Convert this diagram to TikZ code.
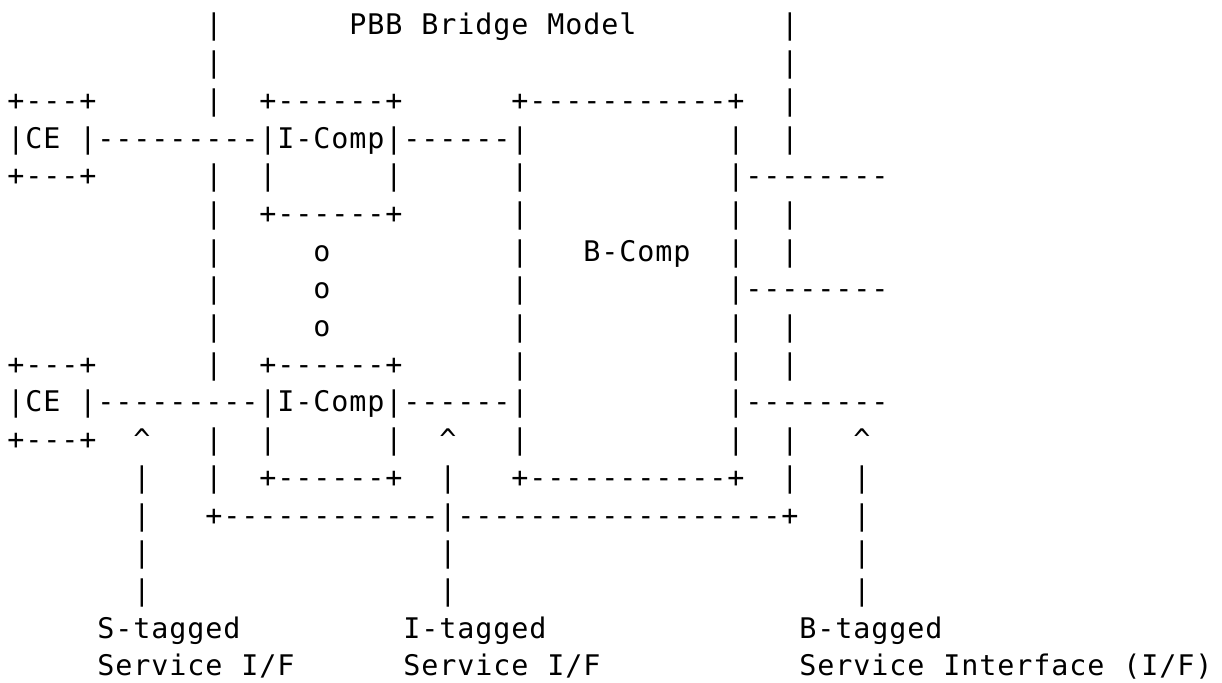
\documentclass[tikz,border=0pt]{standalone}
\usepackage{fontspec}
\newfontfamily\asciifont{DejaVu Sans Mono}
\usetikzlibrary{positioning}
\newlength{\cw}
\setlength{\cw}{9pt}
\newcommand{\gap}[1]{\hspace*{#1\cw}}
\newcommand{\caretch}{\textasciicircum}
% one fixed-width cell per character, \gap{n} for n blank cells
\makeatletter
\newcommand{\cells}[1]{\cells@#1\@nil}
\def\cells@#1{%
  \ifx#1\@nil
  \else\ifx#1\gap\expandafter\expandafter\expandafter\cells@gap
  \else\makebox[\cw]{#1}\expandafter\expandafter\expandafter\cells@
  \fi\fi}
\def\cells@gap#1{\hspace*{#1\cw}\cells@}
\makeatother
\tikzset{
  row/.style={
    anchor=base west,
    inner sep=0pt,
    outer sep=0pt,
    text=black,
    font=\asciifont\fontsize{14.2}{16}\selectfont
  }
}

\begin{document}
\begin{tikzpicture}
  \useasboundingbox (0,0) rectangle (611pt,-341.5pt);

  % bridge frame and title
  \node[row] (title) at (3.5pt,-17.5pt)
    {\cells{\gap{11}|\gap{7}PBB\gap{1}Bridge\gap{1}Model\gap{8}|}};
  \node[row] (r2) at (3.5pt,-36.35pt) {\cells{\gap{11}|\gap{31}|}};

  % upper CE and I-Comp
  \node[row] (r3) at (3.5pt,-55.2pt)
    {\cells{+---+\gap{6}|\gap{2}+------+\gap{6}+-----------+\gap{2}|}};
  \node[row] (ceup) at (3.5pt,-74.05pt)
    {\cells{|CE\gap{1}|---------|I-Comp|------|\gap{11}|\gap{2}|}};
  \node[row] (r5) at (3.5pt,-92.9pt)
    {\cells{+---+\gap{6}|\gap{2}|\gap{6}|\gap{6}|\gap{11}|--------}};
  \node[row] (r6) at (3.5pt,-111.75pt)
    {\cells{\gap{11}|\gap{2}+------+\gap{6}|\gap{11}|\gap{2}|}};

  % dots and B-Comp
  \node[row] (bcomp) at (3.5pt,-130.6pt)
    {\cells{\gap{11}|\gap{5}o\gap{10}|\gap{3}B-Comp\gap{2}|\gap{2}|}};
  \node[row] (r8) at (3.5pt,-149.45pt)
    {\cells{\gap{11}|\gap{5}o\gap{10}|\gap{11}|--------}};
  \node[row] (r9) at (3.5pt,-168.3pt)
    {\cells{\gap{11}|\gap{5}o\gap{10}|\gap{11}|\gap{2}|}};

  % lower CE and I-Comp
  \node[row] (r10) at (3.5pt,-187.15pt)
    {\cells{+---+\gap{6}|\gap{2}+------+\gap{6}|\gap{11}|\gap{2}|}};
  \node[row] (celow) at (3.5pt,-206pt)
    {\cells{|CE\gap{1}|---------|I-Comp|------|\gap{11}|--------}};
  \node[row] (r12) at (3.5pt,-224.85pt)
    {\cells{+---+\gap{2}\caretch\gap{3}|\gap{2}|\gap{6}|\gap{2}\caretch\gap{3}|\gap{11}|\gap{2}|\gap{3}\caretch}};
  \node[row] (r13) at (3.5pt,-243.7pt)
    {\cells{\gap{7}|\gap{3}|\gap{2}+------+\gap{2}|\gap{3}+-----------+\gap{2}|\gap{3}|}};
  \node[row] (r14) at (3.5pt,-262.55pt)
    {\cells{\gap{7}|\gap{3}+------------|------------------+\gap{3}|}};
  \node[row] (r15) at (3.5pt,-281.4pt) {\cells{\gap{7}|\gap{16}|\gap{22}|}};
  \node[row] (r16) at (3.5pt,-300.25pt) {\cells{\gap{7}|\gap{16}|\gap{22}|}};

  % interface labels
  \node[row] (tags) at (3.5pt,-319.1pt)
    {\cells{\gap{5}S-tagged\gap{9}I-tagged\gap{14}B-tagged}};
  \node[row] (ifs) at (3.5pt,-337.95pt)
    {\cells{\gap{5}Service\gap{1}I/F\gap{6}Service\gap{1}I/F\gap{11}Service\gap{1}Interface\gap{1}(I/F)}};
\end{tikzpicture}
\end{document}
